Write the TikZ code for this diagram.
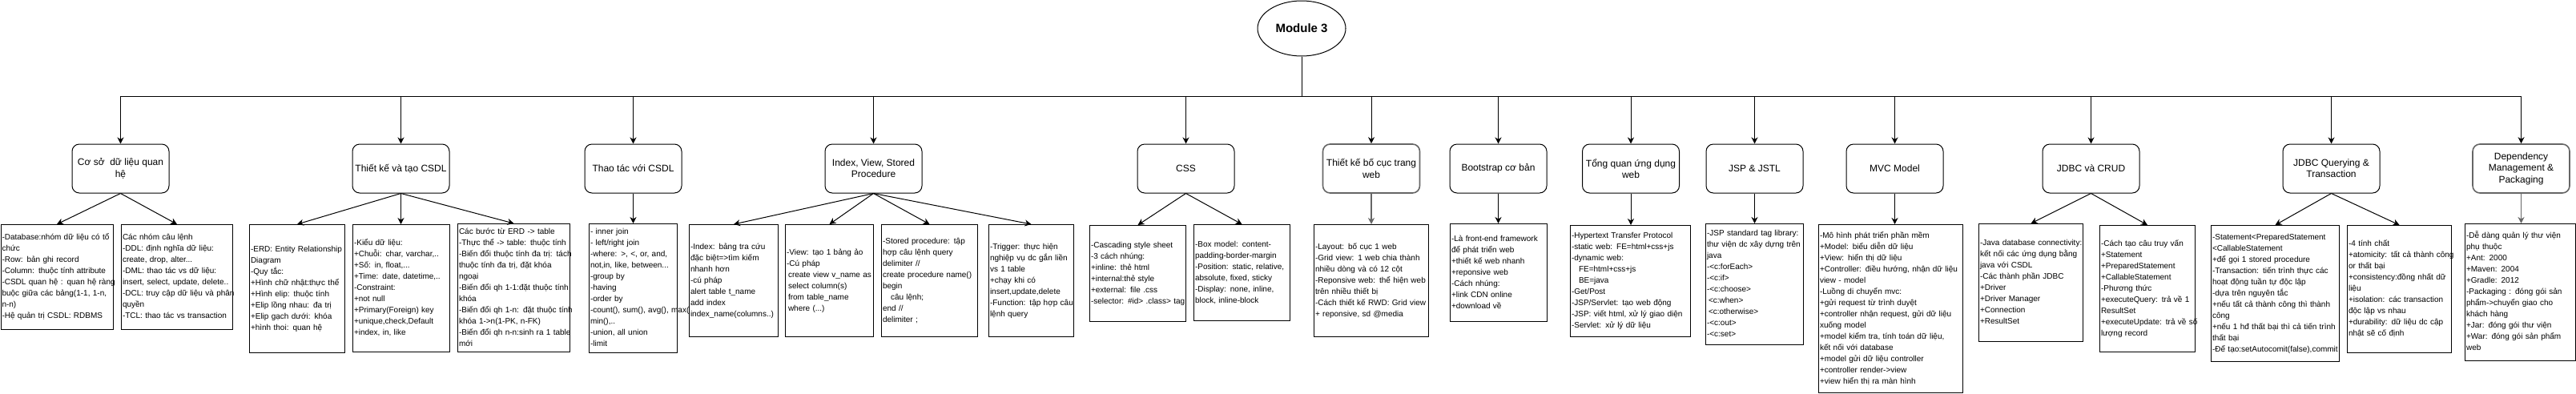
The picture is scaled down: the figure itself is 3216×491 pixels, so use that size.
\documentclass[tikz,border=0pt]{standalone}
\usepackage{fontspec}
\setmainfont{Liberation Sans}
\usetikzlibrary{arrows.meta,shapes.geometric}
\definecolor{edgegray}{HTML}{666666}
\newcommand{\notetext}[1]{\begin{tabular}{@{}l@{}}#1\end{tabular}}

\begin{document}
\begin{tikzpicture}[x=1pt,y=-1pt,line width=1pt,
  >={Stealth[length=8pt,width=8pt,inset=2.5pt]},
  topic/.style={draw,rounded corners=9pt,fill=white,minimum width=121pt,minimum height=61pt,align=center,inner sep=2pt,font=\fontsize{12}{14.4}\selectfont},
  note/.style 2 args={draw,fill=white,anchor=north west,align=left,inner xsep=1.5pt,inner ysep=0pt,text width=#1,minimum height=#2,font=\fontsize{10}{14}\selectfont},
  grayline/.style={draw=edgegray,line width=1.6pt}]
\useasboundingbox (0,0) rectangle (3216,491);
\fill[white] (0,0) rectangle (3216,491);

% root
\node[draw,ellipse,minimum width=110pt,minimum height=69pt,font=\bfseries\fontsize{15}{18}\selectfont] (mod) at (1625,35.5) {Module 3};
\coordinate (bus) at (1625,120);

% topics
\node[topic] (t1) at (150.5,210.5) {Cơ sở~ dữ liệu quan\\hệ};
\node[topic] (t2) at (500.5,210.5) {Thiết kế và tạo CSDL};
\node[topic] (t3) at (790.5,210.5) {Thao tác với CSDL};
\node[topic] (t4) at (1090.5,210.5) {Index, View, Stored\\Procedure};
\node[topic] (t5) at (1480.5,210.5) {CSS};
\node[topic,grayline] (t6) at (1712,210.5) {Thiết kế bố cục trang\\web};
\node[topic] (t7) at (1870.5,210.5) {Bootstrap cơ bản};
\node[topic] (t8) at (2036,210.5) {Tổng quan ứng dụng\\web};
\node[topic] (t9) at (2190.5,210.5) {JSP \& JSTL};
\node[topic] (t10) at (2365.5,210.5) {MVC Model};
\node[topic] (t11) at (2610.5,210.5) {JDBC và CRUD};
\node[topic] (t12) at (2910.5,210.5) {JDBC Querying \&\\Transaction};
\node[topic,grayline] (t13) at (3147.5,210.5) {Dependency\\Management \&\\Packaging};

% bus
\draw (mod.south) -- (bus);
\draw (t1.north |- bus) -- (t13.north |- bus);
\foreach \t in {t1,t2,t3,t4,t5,t6,t7,t8,t9,t10,t11,t12,t13}
  \draw[->] (\t.north |- bus) -- (\t.north);

% notes
\node[note={137pt}{131pt}] (c1a) at (0.5,280) {\notetext{-Database:nhóm dữ liệu có tổ\\chức\\-Row: bản ghi record\\-Column: thuộc tính attribute\\-CSDL quan hệ : quan hệ ràng\\buộc giữa các bảng(1-1, 1-n,\\n-n)\\-Hệ quản trị CSDL: RDBMS}};
\node[note={136pt}{131pt}] (c1b) at (151,280) {\notetext{Các nhóm câu lệnh\\-DDL: định nghĩa dữ liệu:\\create, drop, alter...\\-DML: thao tác vs dữ liệu:\\insert, select, update, delete..\\-DCL: truy cập dữ liệu và phân\\quyền\\-TCL: thao tác vs transaction}};
\node[note={116pt}{160pt}] (c2a) at (311,280) {\notetext{-ERD: Entity Relationship\\Diagram\\-Quy tắc:\\+Hình chữ nhật:thực thể\\+Hình elip: thuộc tính\\+Elip lồng nhau: đa trị\\+Elip gạch dưới: khóa\\+hình thoi: quan hệ}};
\node[note={118pt}{159pt}] (c2b) at (440,280) {\notetext{-Kiểu dữ liệu:\\+Chuỗi: char, varchar,..\\+Số: in, float,...\\+Time: date, datetime,..\\-Constraint:\\+not null\\+Primary(Foreign) key\\+unique,check,Default\\+index, in, like}};
\node[note={137pt}{160pt}] (c2c) at (571,279) {\notetext{Các bước từ ERD -> table\\-Thực thể -> table: thuộc tính\\-Biến đổi thuộc tính đa trị: tách\\thuộc tính đa trị, đặt khóa\\ngoại\\-Biến đổi qh 1-1:đặt thuộc tính\\khóa\\-Biến đổi qh 1-n: đặt thuộc tính\\khóa 1->n(1-PK, n-FK)\\-Biến đổi qh n-n:sinh ra 1 table\\mới}};
\node[note={107pt}{161pt}] (c3a) at (735,279) {\notetext{- inner join\\- left/right join\\-where: >, <, or, and,\\not,in, like, between...\\-group by\\-having\\-order by\\-count(), sum(), avg(), max(),\\min(),..\\-union, all union\\-limit}};
\node[note={108pt}{140pt}] (c4a) at (860,280) {\notetext{-Index: bảng tra cứu\\đặc biệt=>tìm kiếm\\nhanh hơn\\-cú pháp\\alert table t\_name\\add index\\index\_name(columns..)}};
\node[note={107pt}{140pt}] (c4b) at (980,280) {\notetext{-View: tạo 1 bảng ảo\\-Cú pháp\\\hspace*{2pt}create view v\_name as\\\hspace*{2pt}select column(s)\\\hspace*{2pt}from table\_name\\\hspace*{2pt}where (...)}};
\node[note={117pt}{140pt}] (c4c) at (1100,280) {\notetext{-Stored procedure: tập\\hợp câu lệnh query\\delimiter //\\create procedure name()\\begin\\\hspace*{10pt}câu lệnh;\\end //\\delimiter ;}};
\node[note={103pt}{140pt}] (c4d) at (1234,280) {\notetext{-Trigger: thực hiện\\nghiệp vụ dc gắn liền\\vs 1 table\\+chạy khi có\\insert,update,delete\\-Function: tập hợp câu\\lệnh query}};
\node[note={117pt}{120pt}] (c5a) at (1360,281) {\notetext{-Cascading style sheet\\-3 cách nhúng:\\+inline: thẻ html\\+internal:thẻ style\\+external: file .css\\-selector: \#id> .class> tag}};
\node[note={117pt}{120pt}] (c5b) at (1490,280) {\notetext{-Box model: content-\\padding-border-margin\\-Position: static, relative,\\absolute, fixed, sticky\\-Display: none, inline,\\block, inline-block}};
\node[note={140pt}{140pt}] (c6a) at (1640,280) {\notetext{-Layout: bố cục 1 web\\-Grid view: 1 web chia thành\\nhiều dòng và có 12 cột\\-Reponsive web: thể hiện web\\trên nhiều thiết bị\\-Cách thiết kế RWD: Grid view\\+ reponsive, sd @media}};
\node[note={118pt}{122pt}] (c7a) at (1810,279) {\notetext{-Là front-end framework\\để phát triển web\\+thiết kế web nhanh\\+reponsive web\\-Cách nhúng:\\+link CDN online\\+download về}};
\node[note={147pt}{139pt}] (c8a) at (1960,281) {\notetext{-Hypertext Transfer Protocol\\-static web: FE=html+css+js\\-dynamic web:\\\hspace*{9pt}FE=html+css+js\\\hspace*{9pt}BE=java\\-Get/Post\\-JSP/Servlet: tạo web động\\-JSP: viết html, xử lý giao diện\\-Servlet: xử lý dữ liệu}};
\node[note={119pt}{151pt}] (c9a) at (2129,279) {\notetext{-JSP standard tag library:\\thư viện dc xây dựng trên\\java\\-<c:forEach>\\-<c:if>\\-<c:choose>\\\hspace*{2pt}<c:when>\\\hspace*{2pt}<c:otherwise>\\-<c:out>\\-<c:set>}};
\node[note={177pt}{210pt}] (c10a) at (2270,280) {\notetext{-Mô hình phát triển phần mềm\\+Model: biểu diễn dữ liệu\\+View: hiển thị dữ liệu\\+Controller: điều hướng, nhận dữ liệu\\view - model\\-Luồng di chuyển mvc:\\+gửi request từ trình duyệt\\+controller nhận request, gửi dữ liệu\\xuống model\\+model kiểm tra, tính toán dữ liệu,\\kết nối với database\\+model gửi dữ liệu controller\\+controller render->view\\+view hiển thị ra màn hình}};
\node[note={127pt}{147pt}] (c11a) at (2470,279) {\notetext{-Java database connectivity:\\kết nối các ứng dụng bằng\\java với CSDL\\-Các thành phần JDBC\\+Driver\\+Driver Manager\\+Connection\\+ResultSet}};
\node[note={116pt}{158pt}] (c11b) at (2621,281) {\notetext{-Cách tạo câu truy vấn\\+Statement\\+PreparedStatement\\+CallableStatement\\-Phương thức\\+executeQuery: trả về 1\\ResultSet\\+executeUpdate: trả về số\\lượng record}};
\node[note={157pt}{170pt}] (c12a) at (2760,281) {\notetext{-Statement<PreparedStatement\\<CallableStatement\\+để gọi 1 stored procedure\\-Transaction: tiến trình thực các\\hoạt động tuần tự độc lập\\-dựa trên nguyên tắc\\+nếu tất cả thành công thì thành\\công\\+nếu 1 hđ thất bại thì cả tiến trình\\thất bại\\-Để tạo:setAutocomit(false),commit}};
\node[note={127pt}{159pt}] (c12b) at (2930,281) {\notetext{-4 tính chất\\+atomicity: tất cả thành công\\or thất bại\\+consistency:đồng nhất dữ\\liệu\\+isolation: các transaction\\độc lập vs nhau\\+durability: dữ liệu dc cập\\nhật sẽ cố định}};
\node[note={135pt}{171pt}] (c13a) at (3077,279) {\notetext{-Dễ dàng quản lý thư viện\\phụ thuộc\\+Ant: 2000\\+Maven: 2004\\+Gradle: 2012\\-Packaging : đóng gói sản\\phẩm->chuyển giao cho\\khách hàng\\+Jar: đóng gói thư viện\\+War: đóng gói sản phẩm\\web}};

% topic -> notes
\draw[->] (t1.south) -- (c1a.north);
\draw[->] (t1.south) -- (c1b.north);
\draw[->] (t2.south) -- (c2a.north);
\draw[->] (t2.south) -- (t2.south |- c2b.north);
\draw[->] (t2.south) -- (c2c.north);
\draw[->] (t3.south) -- (t3.south |- c3a.north);
\draw[->] (t4.south) -- (c4a.north);
\draw[->] (t4.south) -- (c4b.north);
\draw[->] (t4.south) -- (c4c.north);
\draw[->] (t4.south) -- (c4d.north);
\draw[->] (t5.south) -- (c5a.north);
\draw[->] (t5.south) -- (c5b.north);
\draw[->,grayline] (t6.south) -- (t6.south |- c6a.north);
\draw[->] (t7.south) -- (t7.south |- c7a.north);
\draw[->] (t8.south) -- (t8.south |- c8a.north);
\draw[->] (t9.south) -- (t9.south |- c9a.north);
\draw[->] (t10.south) -- (t10.south |- c10a.north);
\draw[->] (t11.south) -- (c11a.north);
\draw[->] (t11.south) -- (c11b.north);
\draw[->] (t12.south) -- (c12a.north);
\draw[->] (t12.south) -- (c12b.north);
\draw[->,grayline] (t13.south) -- (t13.south |- c13a.north);
\end{tikzpicture}
\end{document}
